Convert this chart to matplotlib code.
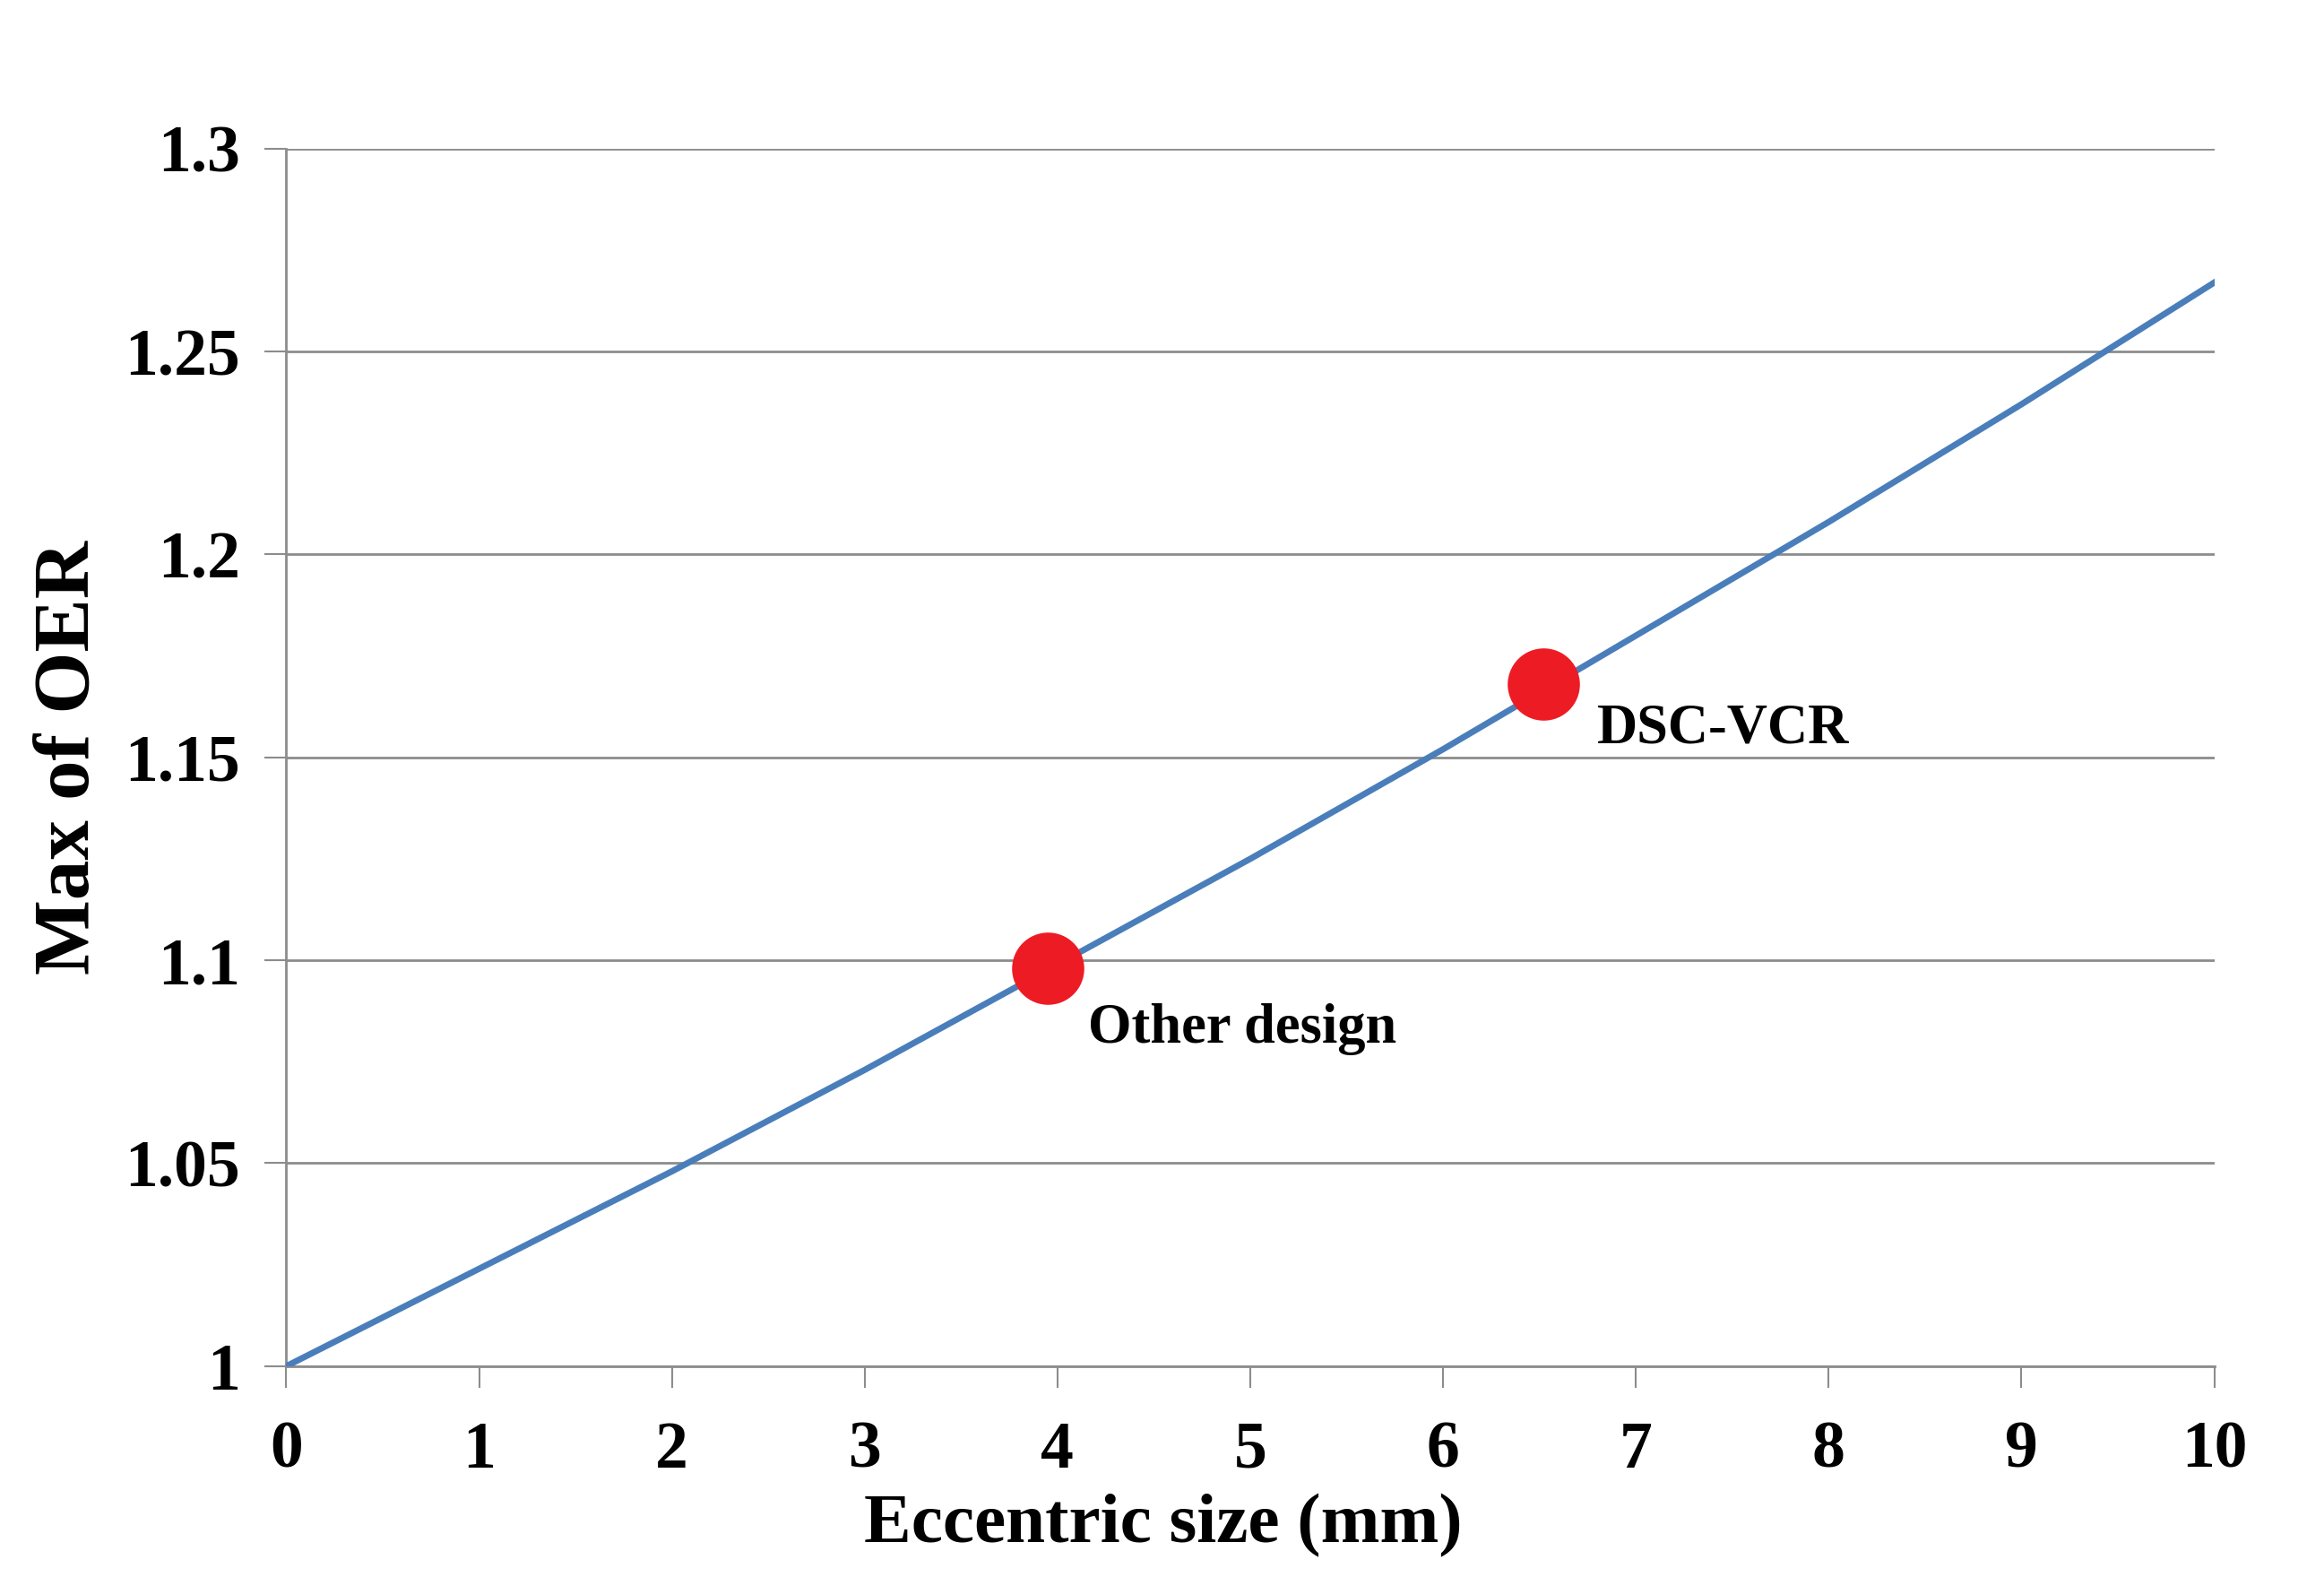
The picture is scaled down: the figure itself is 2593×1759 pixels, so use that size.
import matplotlib.pyplot as plt
from matplotlib.ticker import FuncFormatter

# data
ecc_size = [0, 1, 2, 3, 4, 5, 6, 7, 8, 9, 10]
max_oer = [1.0, 1.024, 1.048, 1.073, 1.099, 1.125, 1.152, 1.180, 1.208, 1.237, 1.267]

design_names = ["Other design", "DSC-VCR"]
design_x = [3.95, 6.52]
design_y = [1.098, 1.168]
label_x = [4.16, 6.80]
label_y = [1.083, 1.157]

plt.rcParams['font.family'] = ['Liberation Serif', 'DejaVu Serif']
plt.rcParams['font.weight'] = 'bold'

fig = plt.figure(figsize=(25.93, 17.59), dpi=100)
ax = fig.add_axes([0.1232, 0.1337, 0.8296, 0.7721])

grid_col = '#8c8c8c'
ax.set_xlim(0, 10)
ax.set_ylim(1.0, 1.3)
ax.set_yticks([1.0, 1.05, 1.1, 1.15, 1.2, 1.25, 1.3])
ax.set_xticks(range(0, 11))
ax.yaxis.set_major_formatter(FuncFormatter(lambda v, p: f"{v:g}"))
ax.grid(axis='y', color=grid_col, linewidth=2)
ax.set_axisbelow(True)

for s in ['top', 'right']:
    ax.spines[s].set_visible(False)
for s in ['left', 'bottom']:
    ax.spines[s].set_color(grid_col)
    ax.spines[s].set_linewidth(2)

ax.tick_params(axis='both', direction='out', length=17, width=1.5,
               color=grid_col, labelsize=53, pad=20)
ax.tick_params(axis='x', pad=27)

ax.plot(ecc_size, max_oer, color='#4a7ebb', linewidth=5, zorder=3)
ax.plot(design_x, design_y, 'o', color='#ed1c24', markersize=58,
        markeredgewidth=0, zorder=4, clip_on=False)

for name, tx, ty in zip(design_names, label_x, label_y):
    ax.text(tx, ty, name, fontsize=45, fontweight='bold', va='center', ha='left')

ax.set_xlabel("Eccentric size (mm)", fontsize=57, fontweight='bold')
ax.xaxis.set_label_coords(0.455, -0.105)
ax.set_ylabel("Max of OER", fontsize=64, fontweight='bold')
ax.yaxis.set_label_coords(-0.094, 0.5)

fig.savefig("out.png", dpi=100)
